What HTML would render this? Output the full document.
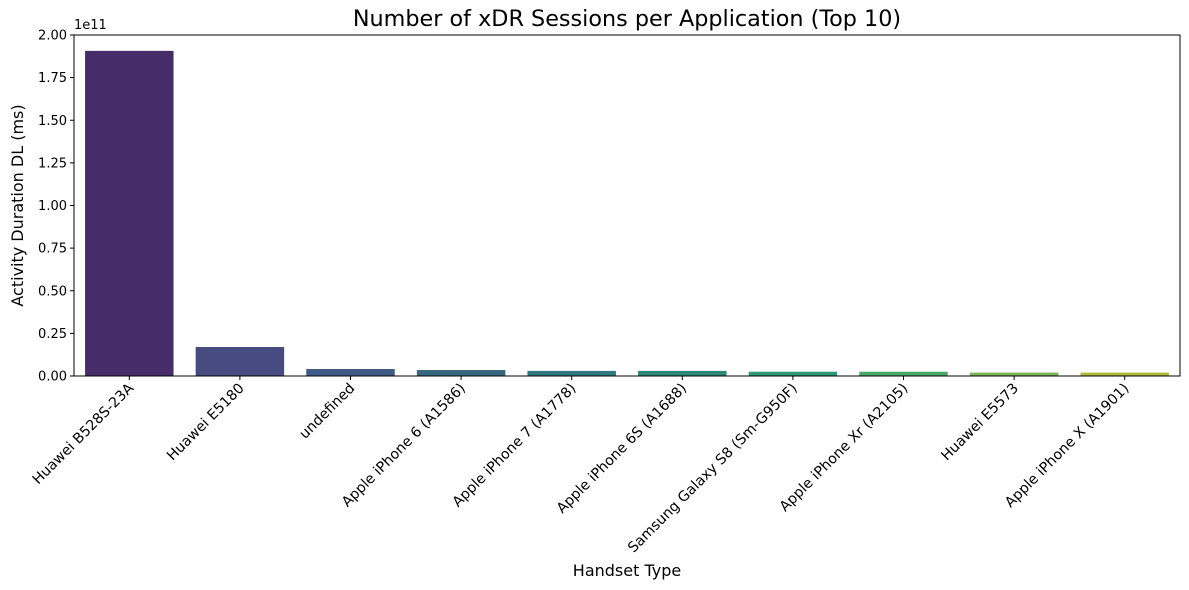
<!DOCTYPE html>
<html><head><meta charset="utf-8"><style>body{margin:0;background:#fff}svg{display:block;font-family:"DejaVu Sans","Liberation Sans",sans-serif}</style></head>
<body>
<svg id="c" width="1189" height="590"></svg>
<script>
const categories=["Huawei B528S-23A","Huawei E5180","undefined","Apple iPhone 6 (A1586)","Apple iPhone 7 (A1778)","Apple iPhone 6S (A1688)","Samsung Galaxy S8 (Sm-G950F)","Apple iPhone Xr (A2105)","Huawei E5573","Apple iPhone X (A1901)"];
const values=[1.907e11,1.7e10,4.1e9,3.5e9,3.0e9,3.0e9,2.5e9,2.5e9,2.0e9,2.0e9];
const yTicks=[0,0.25,0.5,0.75,1.0,1.25,1.5,1.75,2.0];
const colors=["#472c6a","#464b80","#3f5a84","#37687f","#307a7f","#2d8879","#2f9a74","#4aa868","#7cb558","#aeba3a"];
const NS="http://www.w3.org/2000/svg";
const svg=document.getElementById('c');
const L=74,R=1180,T=35,B=376;
const y=v=>B-(v/2.0e11)*(B-T);
const band=(R-L)/categories.length;
const xc=i=>L+band*(i+0.5);
function mk(t,a,p){const e=document.createElementNS(NS,t);for(const k in a)e.setAttribute(k,a[k]);(p||svg).appendChild(e);return e;}
categories.forEach((c,i)=>{
  const w=band*0.8;
  const r=mk('rect',{x:xc(i)-w/2,y:y(values[i]),width:w,height:B-y(values[i]),fill:colors[i]});
  
  
  const tk=mk('line',{x1:xc(i),x2:xc(i),y1:B,y2:B+4,stroke:'#000'});
  
  
  const ax=xc(i)+5, ay=B+13;
  const t=mk('text',{x:ax,y:ay,'text-anchor':'end','font-size':14.2,transform:`rotate(-45 ${ax} ${ay})`});
  t.textContent=c;
  
  
});
yTicks.forEach(v=>{
  const yy=y(v*1e11);
  const tk=mk('line',{x1:L-4,x2:L,y1:yy,y2:yy,stroke:'#000'});
  
  
  const t=mk('text',{x:L-7,y:yy+4.5,'text-anchor':'end','font-size':13});
  t.textContent=v.toFixed(2);
  
  
});
const fr=mk('rect',{x:L,y:T,width:R-L,height:B-T,fill:'none',stroke:'#000','stroke-width':1});


const ex=mk('text',{x:L,y:T-6,'font-size':13});ex.textContent='1e11';


const ti=mk('text',{x:(L+R)/2,y:26,'text-anchor':'middle','font-size':22.3});ti.textContent='Number of xDR Sessions per Application (Top 10)';


const xl=mk('text',{x:(L+R)/2,y:576,'text-anchor':'middle','font-size':16});xl.textContent='Handset Type';


const yl=mk('text',{x:23,y:(T+B)/2,'text-anchor':'middle','font-size':16,transform:`rotate(-90 23 ${(T+B)/2})`});yl.textContent='Activity Duration DL (ms)';


</script>
</body></html>
